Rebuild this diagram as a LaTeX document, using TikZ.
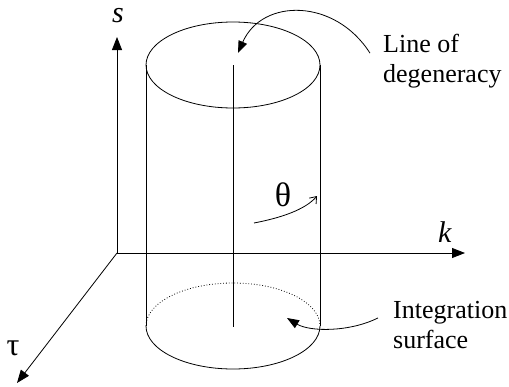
\documentclass[tikz,border=0pt]{standalone}
\usepackage{fontspec}
\setmainfont{Liberation Serif}
\usetikzlibrary{arrows.meta}
\tikzset{
  every node/.style={inner sep=0pt},
  axis/.style={-{Triangle[length=13pt, width=10pt]}, line width=0.8pt},
  ptr/.style={-{Triangle[length=12pt, width=9pt]}, line width=0.8pt},
  rot/.style={-{Straight Barb[length=6pt, width=9pt]}, line width=0.8pt},
  cyl/.style={line width=0.8pt},
  lbl/.style={font=\fontsize{26}{30}\selectfont, align=left, anchor=north west},
  sym/.style={font=\fontsize{30}{34}\selectfont},
}
\begin{document}
\begin{tikzpicture}[x=1pt, y=-1pt]
  \useasboundingbox (0,0) rectangle (509,386);
  % axes
  \coordinate (O) at (117,253);
  \coordinate (stip) at (117,37);
  \coordinate (ktip) at (465,253);
  \coordinate (ttip) at (17,383);
  \draw[axis] (O) -- (stip);
  \draw[axis] (O) -- (ktip);
  \draw[axis] (O) -- (ttip);
  \node[sym] (slab) at (118,16) {\textit{s}};
  \node[sym] (klab) at (445,232) {\textit{k}};
  \node[sym, font=\fontsize{32}{36}\selectfont] (tlab) at (13,348) {τ};
  % cylinder
  \draw[cyl] (233,65) ellipse [x radius=87pt, y radius=43pt];
  \draw[cyl] (146,65) -- (146,326);
  \draw[cyl] (320,65) -- (320,326);
  \draw[cyl] (146,326) arc [start angle=180, end angle=360, x radius=87pt, y radius=43pt];
  \draw[cyl, dotted] (146,326) arc [start angle=180, end angle=0, x radius=87pt, y radius=43pt];
  % line of degeneracy
  \draw[cyl] (233,65) -- (233,327);
  % rotation
  \node[font=\fontsize{34}{38}\selectfont] (theta) at (283,195) {θ};
  \coordinate (rotA) at (254,223);
  \coordinate (rotB) at (317,196);
  \draw[rot] (rotA) .. controls (280,218) and (305,210) .. (rotB);
  % labels
  \node[lbl] (degen) at (383,34) {Line of\\degeneracy};
  \node[lbl] (integ) at (393,301) {Integration\\surface};
  \coordinate (degtip) at (238,53);
  \coordinate (integtip) at (287,318);
  \draw[ptr] ([xshift=-13pt, yshift=8pt]degen.west) .. controls (335,-2) and (262,-2) .. (degtip);
  \draw[ptr] ([xshift=-15pt, yshift=7pt]integ.west) .. controls (350,332) and (310,332) .. (integtip);
\end{tikzpicture}
\end{document}
